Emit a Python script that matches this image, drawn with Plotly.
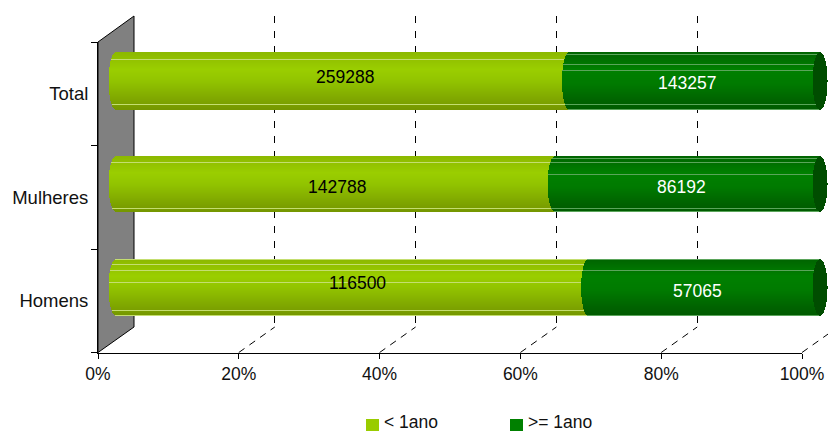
import numpy as np
import plotly.graph_objects as go

categories = ["Homens", "Mulheres", "Total"]
series_names = ["< 1ano", ">= 1ano"]
series_colors = ["#99cc00", "#008000"]
under_1 = [116500, 142788, 259288]
over_1 = [57065, 86192, 143257]
pct_ticks = [0, 20, 40, 60, 80, 100]
pct_labels = ["0%", "20%", "40%", "60%", "80%", "100%"]

W, H = 828, 432
PX = 7.04          # pixels per percent
FONT = "Liberation Sans, Arial, sans-serif"
TXT = "#111111"
FS = 17.5

# drawing style per category: bar top (px), height (px), highlight rows, label shifts
tops = [259, 156, 52]
heights = [57, 56, 58]
hl_light = [[0, 5, 11, 23, 51, 56], [6, 52], [7, 52]]
hl_dark = [[0, 11, 56], [2, 6, 18, 52, 55], [2, 12, 18, 52, 57]]
shift_light = [(5, 4.5), (1, -3), (2, 4)]
shift_dark = [(-7, -3.5), (-6, -3), (-8, -2)]
legend_swatch_x = [366, 510]

Y0 = 287.5
BAND = 103.25
RX = 7.5 / PX


def ramp(t, stops):
    rgb = [np.interp(t, [s[0] for s in stops], [s[i] for s in stops]) for i in (1, 2, 3)]
    return "rgb(%d,%d,%d)" % tuple(int(round(v)) for v in rgb)


LIGHT = [(0, 140, 184, 0), (0.3, 154, 206, 0), (0.5, 146, 196, 0), (0.8, 128, 168, 0), (1, 116, 150, 0)]
DARK = [(0, 0, 100, 0), (0.3, 0, 128, 0), (0.55, 0, 122, 0), (0.85, 0, 98, 0), (1, 0, 90, 0)]

light = dict(y=[], x=[], base=[], width=[], offset=[], color=[])
dark = dict(y=[], x=[], base=[], width=[], offset=[], color=[])
cap = dict(y=[], x=[], base=[], width=[], offset=[], color=[])

for i, cat in enumerate(categories):
    total = under_1[i] + over_1[i]
    split = under_1[i] / total * 100
    h = heights[i]
    for r in range(h):
        t = (r + 0.5) / h
        bulge = RX * np.sqrt(max(0.0, 1 - (2 * t - 1) ** 2))
        offs = (Y0 - (tops[i] + r + 1)) / BAND - i
        for store, start, end, col in (
            (light, 0 - bulge, split - bulge,
             "#c4de70" if r in hl_light[i] else ramp(t, LIGHT)),
            (dark, split - bulge, 100 - bulge,
             "#5ba55b" if r in hl_dark[i] else ramp(t, DARK)),
            (cap, 100 - bulge, 100 + bulge, "#004d00"),
        ):
            store["y"].append(i)
            store["x"].append(end - start)
            store["base"].append(start)
            store["width"].append(1.0 / BAND)
            store["offset"].append(offs)
            store["color"].append(col)

fig = go.Figure()

# back wall grid (subplot xy)
fig.add_trace(go.Scatter(x=[0], y=[0], mode="markers", marker=dict(opacity=0),
                         showlegend=False, hoverinfo="skip", xaxis="x", yaxis="y"))
# front axes (subplot x2y2)
fig.add_trace(go.Scatter(x=[0, 0, 0], y=categories, mode="markers", marker=dict(opacity=0),
                         showlegend=False, hoverinfo="skip", xaxis="x2", yaxis="y2"))
# cylinders (subplot x3y3)
for store in (light, dark, cap):
    fig.add_trace(go.Bar(orientation="h", y=store["y"], x=store["x"], base=store["base"],
                         width=store["width"], offset=store["offset"],
                         marker=dict(color=store["color"], line=dict(width=0)),
                         showlegend=False, hoverinfo="skip", xaxis="x3", yaxis="y3"))


def px(x):
    return x / W


def py(y):
    return 1 - y / H


annotations = []
for i in range(3):
    total = under_1[i] + over_1[i]
    split = under_1[i] / total * 100
    annotations.append(dict(x=split / 2, y=i, xref="x3", yref="y3", text=str(under_1[i]),
                            showarrow=False, xshift=shift_light[i][0], yshift=shift_light[i][1],
                            font=dict(family=FONT, size=FS, color="#000000")))
    annotations.append(dict(x=(split + 100) / 2, y=i, xref="x3", yref="y3", text=str(over_1[i]),
                            showarrow=False, xshift=shift_dark[i][0], yshift=shift_dark[i][1],
                            font=dict(family=FONT, size=FS, color="#ffffff")))

shapes = [dict(type="path", xref="paper", yref="paper", layer="below",
               path=f"M{px(98)},{py(352.5)} L{px(134)},{py(327)} L{px(134)},{py(16)} L{px(98)},{py(42)} Z",
               fillcolor="#808080", line=dict(color="#000000", width=1))]
for v in pct_ticks[1:]:
    xa = 98 + v * PX
    shapes.append(dict(type="line", xref="paper", yref="paper", layer="below",
                       x0=px(xa), y0=py(352.5), x1=px(xa + 36), y1=py(327),
                       line=dict(color="#000000", width=1, dash="7px,6px")))

# legend
for name, col, sx in zip(series_names, series_colors, legend_swatch_x):
    shapes.append(dict(type="rect", xref="paper", yref="paper", x0=px(sx), x1=px(sx + 13),
                       y0=py(431), y1=py(419), fillcolor=col, line=dict(width=0)))
    annotations.append(dict(x=px(sx + 16), y=py(421.5), xref="paper", yref="paper", text=name,
                            xanchor="left", yanchor="middle", showarrow=False,
                            font=dict(family=FONT, size=FS, color=TXT)))

fig.update_layout(
    width=W, height=H, margin=dict(l=0, r=0, t=0, b=0, pad=0, autoexpand=False),
    paper_bgcolor="white", plot_bgcolor="rgba(0,0,0,0)", barmode="overlay", bargap=0,
    font=dict(family=FONT, size=FS, color=TXT), showlegend=False,
    shapes=shapes, annotations=annotations,
    xaxis=dict(domain=[px(134), 1], range=[0, (W - 134) / PX], showgrid=True,
               tickvals=pct_ticks, gridcolor="#000000", griddash="7px,8px", gridwidth=1,
               showticklabels=False, ticks="", zeroline=False, showline=False),
    yaxis=dict(domain=[py(327), py(16)], range=[0, 1], showgrid=False, showticklabels=False,
               ticks="", zeroline=False, showline=False),
    xaxis2=dict(domain=[px(98), px(802)], range=[0, 100], anchor="y2", tickmode="array",
                tickvals=pct_ticks, ticktext=pct_labels, ticks="outside", ticklen=5,
                tickcolor="#000000", tickwidth=1,
                showline=True, linecolor="#000000", linewidth=1, showgrid=False, zeroline=False,
                tickfont=dict(family=FONT, size=FS, color=TXT)),
    yaxis2=dict(domain=[py(352.5), py(42)], range=[-0.5, 2.5], anchor="x2", type="category",
                categoryorder="array", categoryarray=categories, tickson="boundaries",
                ticks="outside", ticklen=6, tickcolor="#000000", tickwidth=1, ticklabelstandoff=5,
                showline=True, linecolor="#000000", linewidth=1, showgrid=False, zeroline=False,
                tickfont=dict(family=FONT, size=18.5, color=TXT)),
    xaxis3=dict(domain=[0, 1], range=[-116 / PX, (W - 116) / PX], anchor="y3", visible=False),
    yaxis3=dict(domain=[0, 1], range=[(Y0 - H) / BAND, Y0 / BAND], anchor="x3", visible=False),
)

fig.write_html("out.html", config=dict(displayModeBar=False),
               post_script="document.body.style.margin='0';document.documentElement.style.overflow='hidden';")
